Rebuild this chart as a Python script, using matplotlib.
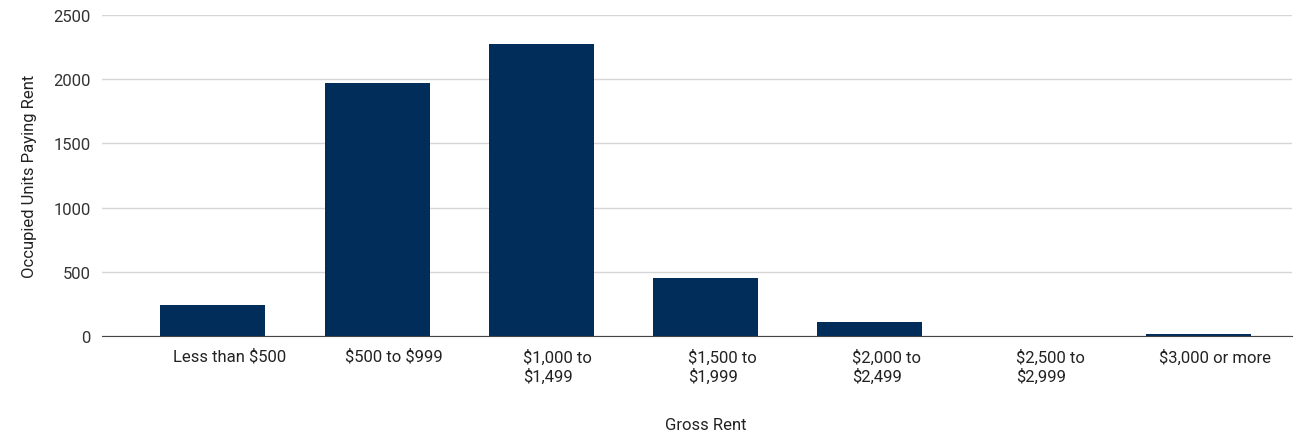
import numpy as np
import matplotlib.pyplot as plt

# gross rent brackets and counts
categories = ["Less than \\$500", "\\$500 to \\$999", "\\$1,000 to\n\\$1,499", "\\$1,500 to\n\\$1,999",
              "\\$2,000 to\n\\$2,499", "\\$2,500 to\n\\$2,999", "\\$3,000 or more"]
units = [245, 1970, 2272, 455, 110, 0, 15]
yticks = [0, 500, 1000, 1500, 2000, 2500]

plt.rcParams['font.family'] = ['Roboto', 'DejaVu Sans']

fig = plt.figure(figsize=(12.98, 4.35), dpi=100)
ax = fig.add_axes([0.0786, 0.2253, 0.9168, 0.7377])

x = np.arange(len(categories))
ax.bar(x, units, width=0.64, color='#012d5b', zorder=3)

ax.set_xlim(-0.675, 6.57)
ax.set_ylim(0, 2500)
ax.set_yticks(yticks)
ax.set_yticklabels([str(v) for v in yticks], fontsize=12, color='#333333')
ax.grid(axis='y', color='#d6d6d6', linewidth=1, zorder=0)
# labels sit a little right of the bar centres, as in the original
ax.set_xticks(x + 0.1)
ax.set_xticklabels(categories, fontsize=12, color='#222222', ha='center',
                   multialignment='left', linespacing=1.2)

ax.tick_params(axis='both', length=0)
ax.tick_params(axis='y', pad=8)
ax.tick_params(axis='x', pad=9)
for s in ['top', 'right', 'left']:
    ax.spines[s].set_visible(False)
ax.spines['bottom'].set_color('#444444')
ax.spines['bottom'].set_zorder(4)

ax.set_ylabel("Occupied Units Paying Rent", fontsize=12, color='#222222', labelpad=12)
fig.text(0.5439, 0.012, "Gross Rent", fontsize=12, color='#222222', ha='center')

fig.savefig('out.png', dpi=100, facecolor='white')
